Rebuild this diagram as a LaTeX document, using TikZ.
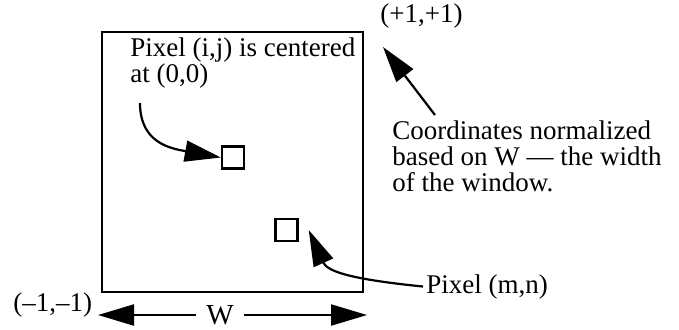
\documentclass[tikz,border=0pt]{standalone}
\usepackage{fontspec}
\setmainfont{Liberation Serif}
\usepackage{tikz}
\usetikzlibrary{arrows.meta, positioning, calc}
\tikzset{
  winbox/.style={
    draw, line width=1.4pt,
    minimum width=130.5pt, minimum height=130pt,
    inner sep=0pt
  },
  pixbox/.style={draw, line width=1.2pt, minimum size=11pt, inner sep=0pt},
  note/.style={font=\fontsize{13.5}{13}\selectfont, inner sep=0pt, align=left},
  bigarrow/.style={-{Triangle[length=18pt, width=10.5pt]}, line width=1.1pt}
}

\begin{document}
\begin{tikzpicture}[x=0.5pt, y=-0.5pt]
    \useasboundingbox (0,0) rectangle (679,329);

    % window and its two pixels
    \node[winbox] (window) at (232.5,162) {};
    \node[pixbox] (pixij) at (233,157.5) {};
    \node[pixbox] (pixmn) at (286.5,230) {};

    % texts
    \node[note, anchor=north west] (ijtext) at (130,37.5) {Pixel (i,j) is centered\\at (0,0)};
    \node[note, anchor=base west] (topright) at (380,22) {(+1,+1)};
    \node[note, anchor=north west] (coordtext) at (392,120.5) {Coordinates normalized\\based on W --- the width\\of the window.};
    \node[note, anchor=base west] (botleft) at (13,311) {(--1,--1)};
    \node[note, anchor=base west, inner sep=1.5pt] (mntext) at (423,293) {Pixel (m,n)};
    \node[note, font=\fontsize{14.5}{14}\selectfont, inner xsep=5pt] (wlabel) at (220,315) {W};

    % free ends
    \coordinate (ijstart) at (140,103);
    \coordinate (cstart) at (435,115);
    \coordinate (cend) at (383,47);
    \coordinate (wleft) at (98,315);
    \coordinate (wright) at (367,315);

    \draw[bigarrow] (ijstart) .. controls +(0,40) and +(-50,-9) .. (pixij.west);
    \draw[bigarrow] (cstart) -- (cend);
    \draw[bigarrow] (mntext.west) .. controls +(-80,-8) and +(18,40) .. ([xshift=5pt]pixmn.east);
    \draw[bigarrow] (wlabel) -- (wleft);
    \draw[bigarrow] (wlabel) -- (wright);
  \end{tikzpicture}
\end{document}
